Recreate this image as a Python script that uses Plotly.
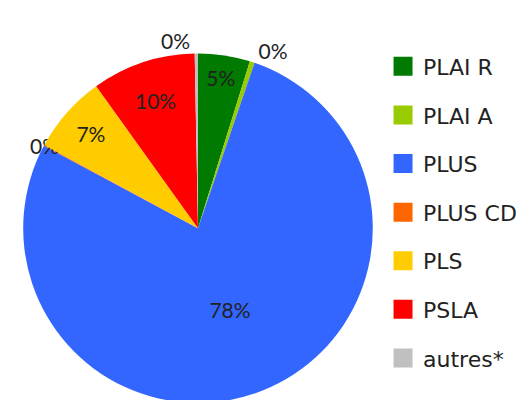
import plotly.graph_objects as go

labels = ["PLAI R", "PLAI A", "PLUS", "PLUS CD", "PLS", "PSLA", "autres*"]
values = [4.8, 0.45, 77.6, 0.1, 7.2, 9.6, 0.3]
colors = ["#007a00", "#99cc00", "#3366ff", "#ff6600", "#ffcc00", "#ff0000", "#c0c0c0"]
text_pos = ["inside", "outside", "inside", "inside", "inside", "inside", "outside"]

LABEL_FONT = "Lato, Open Sans, sans-serif"
LEGEND_FONT = "DejaVu Sans, Open Sans, sans-serif"

fig = go.Figure()
fig.add_trace(go.Pie(
    labels=labels, values=values, sort=False, direction="clockwise", rotation=0,
    marker=dict(colors=colors, line=dict(width=0)),
    texttemplate="%{percent:.0%}", textposition=text_pos,
    insidetextorientation="horizontal",
    textfont=dict(family=LABEL_FONT, size=21, color="#222222"),
    showlegend=False, hoverinfo="label+percent",
    domain=dict(x=[0.0228, 0.6996], y=[0.0, 0.885]),
))

for lab, col in zip(labels, colors):
    fig.add_trace(go.Scatter(
        x=[None], y=[None], mode="markers", name=lab, legendgroup=lab,
        marker=dict(symbol="square", size=16, color=col, line=dict(width=3, color=col)),
        showlegend=True,
    ))

fig.update_layout(
    width=526, height=400,
    margin=dict(l=0, r=0, t=0, b=0),
    paper_bgcolor="white", plot_bgcolor="white",
    xaxis=dict(visible=False), yaxis=dict(visible=False),
    uniformtext=dict(minsize=21, mode="show"),
    legend=dict(x=0.713, y=0.905, xanchor="left", yanchor="top",
                font=dict(family=LEGEND_FONT, size=22, color="#222222"),
                tracegroupgap=17, itemwidth=30, bgcolor="rgba(0,0,0,0)"),
)
fig.write_html("out.html")
